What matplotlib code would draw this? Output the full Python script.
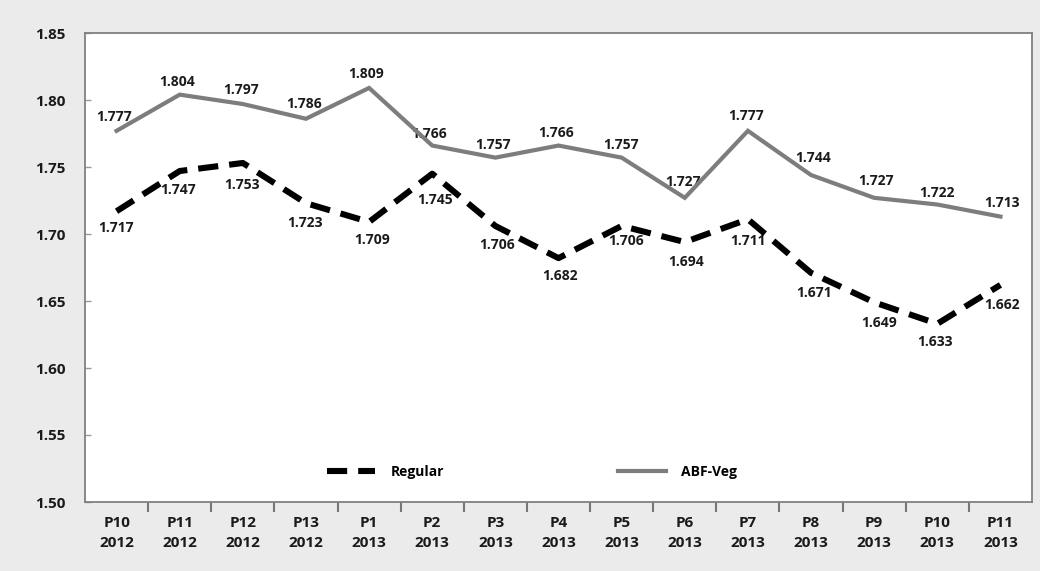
import matplotlib
matplotlib.use('Agg')
import matplotlib.pyplot as plt
from matplotlib.lines import Line2D

periods = ["P10", "P11", "P12", "P13", "P1", "P2", "P3", "P4", "P5", "P6", "P7", "P8", "P9", "P10", "P11"]
years = ["2012", "2012", "2012", "2012", "2013", "2013", "2013", "2013", "2013", "2013", "2013", "2013", "2013", "2013", "2013"]
regular = [1.717, 1.747, 1.753, 1.723, 1.709, 1.745, 1.706, 1.682, 1.706, 1.694, 1.711, 1.671, 1.649, 1.633, 1.662]
abf_veg = [1.777, 1.804, 1.797, 1.786, 1.809, 1.766, 1.757, 1.766, 1.757, 1.727, 1.777, 1.744, 1.727, 1.722, 1.713]
yticks = [1.50, 1.55, 1.60, 1.65, 1.70, 1.75, 1.80, 1.85]

# label offsets (pixels) relative to each point
abf_off = [(-2, 14), (-3, 13), (-2, 14), (-2, 15), (-3, 14), (-3, 12), (-2, 13), (-2, 13),
           (-1, 13), (-2, 16), (-2, 15), (2, 17), (2, 17), (0, 12), (2, 14)]
reg_off = [(-1, -17), (-2, -19), (-1, -22), (-1, -20), (3, -18), (3, -26), (2, -19), (2, -18),
           (4, -15), (1, -20), (0, -22), (3, -20), (5, -21), (-2, -18), (2, -20)]

plt.rcParams['font.family'] = ['Open Sans', 'DejaVu Sans']

fig = plt.figure(figsize=(10.4, 5.71), dpi=100)
fig.patch.set_facecolor('#ebebeb')
ax = fig.add_axes([85/1040, 1 - 502/571, (1032 - 85)/1040, (502 - 33)/571])
ax.set_facecolor('white')

x = list(range(len(periods)))
gray = '#7d7d7d'
dash = (0, (3.3, 1.8))
ax.plot(x, abf_veg, color=gray, lw=3.0, solid_joinstyle='miter', zorder=4)
ax.plot(x, regular, color='black', lw=4.4, linestyle=dash,
        dash_capstyle='butt', zorder=4)

for i, v in enumerate(abf_veg):
    ax.annotate(f"{v:.3f}", (i, v), xytext=abf_off[i], textcoords='offset pixels',
                ha='center', va='center', fontsize=10, fontweight='bold', color='#1a1a1a', zorder=3)
for i, v in enumerate(regular):
    ax.annotate(f"{v:.3f}", (i, v), xytext=reg_off[i], textcoords='offset pixels',
                ha='center', va='center', fontsize=10, fontweight='bold', color='#1a1a1a', zorder=3)

ax.set_xlim(-0.5, len(periods) - 0.5)
ax.set_ylim(1.50, 1.85)
ax.set_yticks(yticks)
ax.set_yticklabels([f"{t:.2f}" for t in yticks], fontsize=11, fontweight='bold', color='#1a1a1a')
ax.tick_params(axis='y', direction='in', length=4, width=1, color='#999999', pad=14)

ax.set_xticks([i + 0.5 for i in range(len(periods) - 1)])
ax.set_xticklabels([])
ax.tick_params(axis='x', which='major', direction='out', length=7, width=1.5, color='#777777')
ax.set_xticks(x, minor=True)
ax.set_xticklabels([f"{p}\n{y}" for p, y in zip(periods, years)], minor=True,
                   fontsize=11, fontweight='bold', color='#1a1a1a', linespacing=1.6)
ax.tick_params(axis='x', which='minor', length=0, pad=10)

for s in ax.spines.values():
    s.set_color('#808080')
    s.set_linewidth(1.3)

handles = [Line2D([], [], color='black', lw=4.4, linestyle=dash, dash_capstyle='butt'),
           Line2D([], [], color=gray, lw=3.0)]
ax.legend(handles, ['Regular', 'ABF-Veg'], loc='center', bbox_to_anchor=(0.472, 0.064),
          ncol=2, frameon=False, handlelength=3.5, handletextpad=1.1, columnspacing=12.5,
          prop={'family': 'Open Sans', 'weight': 'bold', 'size': 10})

fig.savefig('out.png', dpi=100, facecolor=fig.get_facecolor())
